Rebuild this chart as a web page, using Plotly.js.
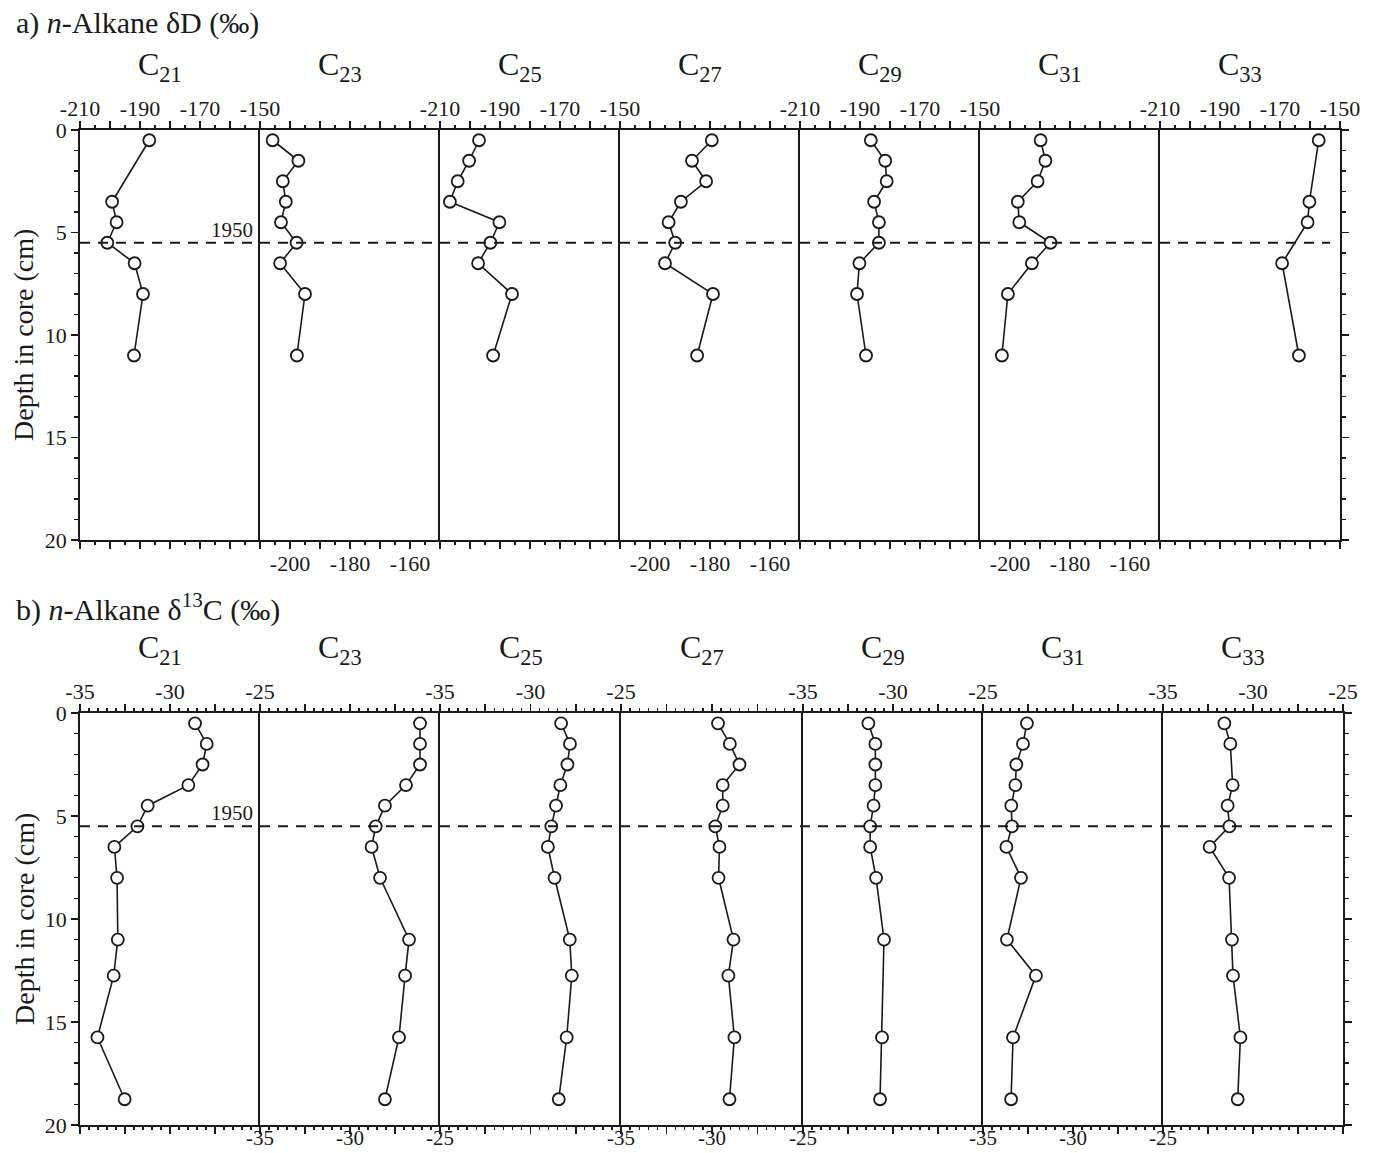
<!DOCTYPE html>
<html>
<head>
<meta charset="utf-8">
<script src="https://cdn.plot.ly/plotly-3.0.1.min.js"></script>
<style>html,body{margin:0;padding:0;background:#fff;}#chart{width:1373px;height:1153px;}</style>
</head>
<body>
<div id="chart"></div>
<script>
// ---------------- DATA ----------------
const carbonNumbers = ['21', '23', '25', '27', '29', '31', '33'];

// a) n-Alkane deltaD (permil), depth in cm
const dD_C21_depth = [0.5, 3.5, 4.5, 5.5, 6.5, 8, 11];
const dD_C21 = [-186.9, -199.3, -197.8, -200.9, -191.8, -189, -192];
const dD_depth = [0.5, 1.5, 2.5, 3.5, 4.5, 5.5, 6.5, 8, 11];
const dD_C23 = [-205.8, -197.2, -202.4, -201.4, -203, -197.8, -203.3, -195, -197.7];
const dD_C25 = [-197, -200.3, -204.1, -206.7, -190.2, -193.2, -197.3, -186, -192.3];
const dD_C27 = [-179.4, -186, -181.3, -189.7, -193.8, -191.6, -195, -179, -184.3];
const dD_C29 = [-186.4, -181.6, -181.1, -185.3, -183.7, -183.7, -190.2, -191, -188];
const dD_C31 = [-189.8, -188.2, -190.8, -197.4, -196.9, -186.5, -192.7, -200.7, -202.7];
const dD_C33_depth = [0.5, 3.5, 4.5, 6.5, 11];
const dD_C33 = [-157.1, -160.2, -160.8, -169.3, -163.7];

// b) n-Alkane delta13C (permil)
const d13C_depth = [0.5, 1.5, 2.5, 3.5, 4.5, 5.5, 6.5, 8, 11, 12.75, 15.75, 18.75];
const d13C_C21 = [-28.61, -27.96, -28.19, -28.98, -31.24, -31.81, -33.09, -32.94, -32.9, -33.13, -34.03, -32.52];
const d13C_C23 = [-26.11, -26.11, -26.11, -26.89, -28.06, -28.57, -28.8, -28.33, -26.72, -26.94, -27.28, -28.06];
const d13C_C25 = [-28.31, -27.82, -27.96, -28.35, -28.59, -28.85, -29.04, -28.67, -27.83, -27.72, -28.0, -28.44];
const d13C_C27 = [-29.67, -29.02, -28.49, -29.41, -29.41, -29.82, -29.59, -29.64, -28.82, -29.1, -28.77, -29.04];
const d13C_C29_depth = [0.5, 1.5, 2.5, 3.5, 4.5, 5.5, 6.5, 8, 11, 15.75, 18.75];
const d13C_C29 = [-31.37, -30.98, -30.98, -30.98, -31.08, -31.27, -31.27, -30.94, -30.5, -30.61, -30.72];
const d13C_C31 = [-32.56, -32.78, -33.15, -33.2, -33.43, -33.39, -33.7, -32.89, -33.67, -32.06, -33.33, -33.44];
const d13C_C33_depth = [0.5, 1.5, 3.5, 4.5, 5.5, 6.5, 8, 11, 12.75, 15.75, 18.75];
const d13C_C33 = [-31.59, -31.26, -31.13, -31.41, -31.31, -32.41, -31.33, -31.17, -31.11, -30.7, -30.85];

const horizon1950 = 5.5;
const horizonLabel = '1950';

// tick labels
const tickValsA = [-210, -200, -190, -180, -170, -160, -150];
const tickTextTopA = ['-210', '', '-190', '', '-170', '', '-150'];
const tickTextBottomA = ['', '-200', '', '-180', '', '-160', ''];
const tickValsB = [-35, -32.5, -30, -27.5, -25];
const tickTextB = ['-35', '', '-30', '', '-25'];
const depthTickVals = [0, 5, 10, 15, 20];

const titleA = 'a) <i>n</i>-Alkane δD (‰)';
const titleB = 'b) <i>n</i>-Alkane δ<sup>13</sup>C (‰)';
const depthTitle = 'Depth in core (cm)';

// ---------------- LAYOUT ----------------
const W = 1373, H = 1153;
const FONT = 'Liberation Serif, Times New Roman, Times, serif';
const INK = '#1a1a1a';
const edgesA = [80, 260, 440, 620, 800, 980, 1160, 1340];
const edgesB = [80, 260, 440, 621, 803, 983, 1163, 1343];
const yDomA = [1 - 540 / H, 1 - 130 / H];
const yDomB = [1 - 1125 / H, 1 - 713 / H];
const labelSide = ['top', 'bottom', 'top', 'bottom', 'top', 'bottom', 'top'];

const seriesA = [
  [dD_C21, dD_C21_depth], [dD_C23, dD_depth], [dD_C25, dD_depth], [dD_C27, dD_depth],
  [dD_C29, dD_depth], [dD_C31, dD_depth], [dD_C33, dD_C33_depth]
];
const seriesB = [
  [d13C_C21, d13C_depth], [d13C_C23, d13C_depth], [d13C_C25, d13C_depth], [d13C_C27, d13C_depth],
  [d13C_C29, d13C_C29_depth], [d13C_C31, d13C_depth], [d13C_C33, d13C_C33_depth]
];

const layout = {
  width: W, height: H,
  margin: {l: 0, r: 0, t: 0, b: 0},
  paper_bgcolor: '#fff', plot_bgcolor: '#fff',
  showlegend: false,
  font: {family: FONT, color: INK, size: 20},
  shapes: [], annotations: []
};
const traces = [];

function addPanel(panelIdx, series, edges, yDom, range, tickvals, textTop, textBottom, minorDtick, standTop, standBottom, bottomFont) {
  for (let i = 0; i < 7; i++) {
    const k = panelIdx * 7 + i + 1;
    const xn = 'xaxis' + (k === 1 ? '' : k), yn = 'yaxis' + (k === 1 ? '' : k);
    const xr = 'x' + (k === 1 ? '' : k), yr = 'y' + (k === 1 ? '' : k);
    const side = labelSide[i];
    layout[xn] = {
      domain: [edges[i] / W, edges[i + 1] / W], range: range, anchor: yr, side: side,
      showline: true, linewidth: 1.8, linecolor: INK, mirror: 'ticks',
      ticks: 'outside', ticklen: 7, tickwidth: 1.6, tickcolor: INK,
      tickmode: 'array', tickvals: tickvals, ticktext: side === 'top' ? textTop : textBottom,
      minor: {tickmode: 'linear', tick0: range[0], dtick: minorDtick, ticks: 'outside', ticklen: 3, tickwidth: 1.4, tickcolor: INK, showgrid: false},
      showgrid: false, zeroline: false, fixedrange: true,
      tickfont: {family: FONT, size: side === 'top' ? 22 : bottomFont, color: INK},
      ticklabelstandoff: side === 'top' ? standTop : standBottom
    };
    const first = i === 0, last = i === 6;
    layout[yn] = {
      domain: yDom, range: [20, 0], anchor: xr, side: last ? 'right' : 'left',
      showline: true, linewidth: 1.8, linecolor: INK, mirror: last,
      ticks: (first || last) ? 'outside' : '', ticklen: 7, tickwidth: 1.6, tickcolor: INK,
      tickmode: 'array', tickvals: depthTickVals, showticklabels: first,
      minor: {tickmode: 'linear', tick0: 0, dtick: 1, ticks: (first || last) ? 'outside' : '', ticklen: 4, tickwidth: 1.4, tickcolor: INK, showgrid: false},
      showgrid: false, zeroline: false, fixedrange: true,
      tickfont: {family: FONT, size: 22, color: INK}, ticklabelstandoff: 0
    };
    traces.push({
      type: 'scatter', mode: 'lines+markers',
      x: series[i][0], y: series[i][1], xaxis: xr, yaxis: yr,
      line: {color: INK, width: 1.6},
      marker: {symbol: 'circle', size: 12, color: '#fff', line: {color: INK, width: 1.8}},
      cliponaxis: false, hoverinfo: 'x+y'
    });
    layout.annotations.push({
      text: 'C<sub>' + carbonNumbers[i] + '</sub>', showarrow: false,
      xref: xr + ' domain', x: 0.5, xshift: -10, xanchor: 'center',
      yref: 'paper', y: yDom[1] + 64 / H, yanchor: 'middle',
      font: {family: FONT, size: 32, color: INK}
    });
  }
  const ya = 'y' + (panelIdx * 7 + 1 === 1 ? '' : panelIdx * 7 + 1);
  const xa = 'x' + (panelIdx * 7 + 1 === 1 ? '' : panelIdx * 7 + 1);
  layout.shapes.push({
    type: 'line', xref: 'paper', x0: edges[0] / W, x1: (edges[7] - 10) / W,
    yref: ya, y0: horizon1950, y1: horizon1950,
    line: {color: INK, width: 2, dash: '10px,8px'}
  });
  layout.annotations.push({
    text: horizonLabel, showarrow: false, xref: xa + ' domain', x: 1, xshift: -5, xanchor: 'right',
    yref: ya, y: horizon1950, yanchor: 'bottom', yshift: -1,
    font: {family: FONT, size: 21, color: INK}
  });
  layout.annotations.push({
    text: depthTitle, showarrow: false, textangle: -90,
    xref: 'paper', x: 24 / W, xanchor: 'center',
    yref: 'paper', y: (yDom[0] + yDom[1]) / 2, yanchor: 'middle',
    font: {family: FONT, size: 28, color: INK}
  });
}

addPanel(0, seriesA, edgesA, yDomA, [-210, -150], tickValsA, tickTextTopA, tickTextBottomA, 5, -4, -4, 22);
addPanel(1, seriesB, edgesB, yDomB, [-35, -25], tickValsB, tickTextB, tickTextB, 0.5, -4, -14, 21);

layout.annotations.push({
  text: titleA, showarrow: false, xref: 'paper', x: 14 / W, xanchor: 'left',
  yref: 'paper', y: 1 - 23 / H, yanchor: 'middle', font: {family: FONT, size: 30, color: INK}
});
layout.annotations.push({
  text: titleB, showarrow: false, xref: 'paper', x: 14 / W, xanchor: 'left',
  yref: 'paper', y: 1 - 607 / H, yanchor: 'middle', font: {family: FONT, size: 30, color: INK}
});

Plotly.newPlot('chart', traces, layout, {displayModeBar: false, staticPlot: true});
</script>
</body>
</html>
